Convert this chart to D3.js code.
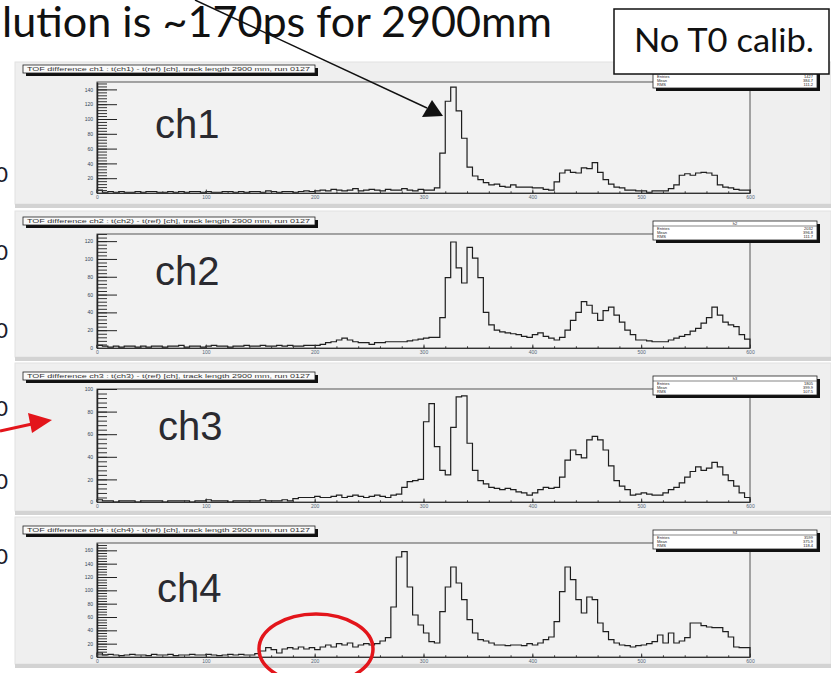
<!DOCTYPE html>
<html>
<head>
<meta charset="utf-8">
<script src="https://cdn.jsdelivr.net/npm/d3@7"></script>
<style>
  body { margin: 0; background: #fff; }
  svg { display: block; }
</style>
</head>
<body>
<div id="chart"></div>
<script>
// ---- data ----
const channels = ["ch1", "ch2", "ch3", "ch4"];
const xDomain = [0, 600];
const binWidth = 5;
const xMajorTicks = [0, 100, 200, 300, 400, 500, 600];
const yMaxes = [150, 128, 100, 171];
const yMajorStep = 20;

const ch1Counts = [
  4, 1, 2, 1, 2, 1, 1, 2, 1, 2, 2, 1, 1, 2, 1, 2, 1, 2, 2, 1,
  2, 1, 1, 2, 2, 1, 2, 1, 2, 2, 1, 3, 2, 1, 2, 2, 1, 2, 3, 2,
  3, 4, 3, 5, 4, 3, 4, 6, 3, 4, 5, 4, 3, 5, 4, 4, 6, 4, 3, 5,
  4, 4, 7, 54, 124, 143, 111, 74, 35, 23, 18, 14, 11, 12, 9, 8, 11, 8, 8, 8,
  7, 7, 5, 4, 15, 27, 31, 28, 27, 34, 33, 41, 28, 18, 12, 8, 7, 4, 4, 3,
  3, 1, 3, 3, 3, 6, 11, 24, 26, 24, 27, 28, 27, 24, 11, 8, 7, 5, 4, 4
];
const ch2Counts = [
  3, 2, 1, 2, 1, 2, 2, 1, 2, 1, 2, 2, 1, 2, 2, 3, 1, 2, 2, 1,
  2, 3, 2, 2, 1, 2, 2, 3, 2, 2, 3, 2, 2, 3, 2, 3, 2, 2, 3, 3,
  3, 4, 6, 7, 9, 11, 9, 7, 6, 6, 4, 6, 6, 7, 7, 7, 7, 8, 9, 10,
  11, 12, 12, 34, 79, 119, 90, 73, 113, 101, 79, 40, 26, 20, 18, 17, 16, 15, 13, 12,
  15, 17, 13, 11, 9, 12, 20, 31, 40, 52, 48, 39, 31, 42, 46, 37, 29, 20, 15, 9,
  9, 8, 7, 7, 7, 9, 11, 13, 15, 19, 22, 28, 34, 46, 37, 29, 26, 24, 15, 10
];
const ch3Counts = [
  2, 1, 1, 0, 1, 1, 1, 0, 1, 1, 1, 1, 0, 1, 1, 1, 1, 0, 1, 1,
  2, 1, 1, 1, 0, 1, 1, 1, 1, 1, 2, 1, 1, 1, 2, 1, 3, 4, 4, 4,
  5, 4, 4, 5, 6, 4, 5, 6, 5, 4, 5, 6, 5, 4, 6, 7, 13, 18, 19, 20,
  71, 87, 49, 28, 24, 66, 93, 94, 52, 28, 19, 16, 13, 12, 11, 12, 11, 9, 8, 6,
  8, 11, 13, 12, 13, 22, 37, 46, 42, 39, 55, 58, 55, 46, 32, 19, 14, 11, 6, 7,
  8, 7, 6, 6, 8, 11, 13, 17, 22, 27, 31, 28, 30, 35, 31, 24, 19, 14, 8, 4
];
const ch4Counts = [
  6, 3, 4, 3, 2, 3, 4, 3, 3, 2, 4, 3, 3, 4, 2, 3, 3, 4, 3, 3,
  4, 3, 2, 3, 4, 3, 4, 3, 3, 5, 9, 14, 11, 6, 12, 14, 12, 15, 12, 14,
  11, 15, 18, 15, 20, 18, 21, 15, 18, 20, 18, 20, 24, 29, 75, 150, 158, 105, 63, 48,
  36, 23, 21, 68, 105, 135, 111, 86, 56, 36, 26, 24, 21, 18, 18, 17, 18, 18, 17, 20,
  18, 21, 26, 30, 53, 98, 135, 116, 86, 66, 90, 86, 51, 38, 26, 21, 18, 17, 15, 17,
  18, 20, 23, 33, 21, 36, 21, 24, 29, 51, 51, 47, 45, 44, 44, 38, 30, 15, 14, 14
];
const series = [ch1Counts, ch2Counts, ch3Counts, ch4Counts];
const statLabels = ["Entries", "Mean", "RMS"];

// ---- layout ----
const W = 831, H = 673;
const frameLeft = 97, frameRight = 750;
const frameTops = [82, 234, 389, 543];
const frameBottoms = [193, 348, 502, 657];
const padTops = [62, 211, 363, 517];
const padBottoms = [204, 357, 511, 664];
const labelPos = [[155, 138], [155, 285], [158, 440], [157, 602]];
const sideZeros = [174, 252, 330, 408, 481, 556];

const svg = d3.select("#chart").append("svg")
  .attr("width", W).attr("height", H);
svg.append("rect").attr("width", W).attr("height", H).attr("fill", "#fff");

const x = d3.scaleLinear().domain(xDomain).range([frameLeft, frameRight]);

channels.forEach((name, i) => {
  const counts = series[i];
  const top = frameTops[i], bottom = frameBottoms[i];
  const y = d3.scaleLinear().domain([0, yMaxes[i]]).range([bottom, top]);
  const g = svg.append("g").attr("class", "pad");

  // pad + bottom edge
  g.append("rect")
    .attr("x", 15).attr("y", padTops[i])
    .attr("width", W - 15).attr("height", padBottoms[i] - padTops[i])
    .attr("fill", "#efefef").attr("stroke", "#e2e2e2");
  g.append("rect")
    .attr("x", 15).attr("y", padBottoms[i])
    .attr("width", W - 15).attr("height", 4)
    .attr("fill", "#d3d3d3");

  // frame
  g.append("rect")
    .attr("x", frameLeft).attr("y", top)
    .attr("width", frameRight - frameLeft).attr("height", bottom - top)
    .attr("fill", "#f2f2f2").attr("stroke", "#555").attr("stroke-width", 1);

  // histogram
  const end = xDomain[0] + counts.length * binWidth;
  const pts = [[xDomain[0], 0]]
    .concat(counts.map((c, j) => [xDomain[0] + j * binWidth, c]))
    .concat([[end, counts[counts.length - 1]], [end, 0]]);
  const line = d3.line()
    .x(d => x(d[0]))
    .y(d => y(d[1]))
    .curve(d3.curveStepAfter);
  g.append("path")
    .attr("d", line(pts))
    .attr("fill", "none")
    .attr("stroke", "#1e1e1e")
    .attr("stroke-width", 1.2);

  // y axis, ticks inside the frame
  const yMinor = d3.range(0, yMaxes[i] + 0.01, 4);
  const yMajor = d3.range(0, yMaxes[i] + 0.01, yMajorStep);
  g.append("g")
    .attr("transform", `translate(${frameLeft},0)`)
    .call(d3.axisLeft(y).tickValues(yMinor).tickSize(-10).tickFormat(""))
    .call(a => a.select(".domain").remove())
    .call(a => a.selectAll("line").attr("stroke", "#333"));
  g.append("g")
    .attr("transform", `translate(${frameLeft},0)`)
    .call(d3.axisLeft(y).tickValues(yMajor).tickSize(-20).tickPadding(4).tickSizeOuter(0))
    .call(a => a.select(".domain").attr("stroke", "#222").attr("stroke-width", 1.5))
    .call(a => a.selectAll("line").attr("stroke", "#222"))
    .call(a => a.selectAll("text").attr("font-size", 5).attr("fill", "#345")
      .attr("font-family", "Liberation Sans, Arial, sans-serif"));

  // x axis
  g.append("g")
    .attr("transform", `translate(0,${bottom})`)
    .call(d3.axisBottom(x).tickValues(d3.range(xDomain[0], xDomain[1] + 1, 20)).tickSize(-1.7).tickFormat(""))
    .call(a => a.select(".domain").remove())
    .call(a => a.selectAll("line").attr("stroke", "#333"));
  g.append("g")
    .attr("transform", `translate(0,${bottom})`)
    .call(d3.axisBottom(x).tickValues(xMajorTicks).tickSize(-3.4).tickPadding(2).tickSizeOuter(0))
    .call(a => a.select(".domain").attr("stroke", "#333"))
    .call(a => a.selectAll("line").attr("stroke", "#333"))
    .call(a => a.selectAll("text").attr("font-size", 5).attr("fill", "#567")
      .attr("font-family", "Liberation Sans, Arial, sans-serif"));

  // title pave with shadow
  const tx = 23, ty = top - 17, tw = 292, th = 8;
  g.append("rect").attr("x", tx + 3).attr("y", ty + 3).attr("width", tw).attr("height", th).attr("fill", "#111");
  g.append("rect").attr("x", tx).attr("y", ty).attr("width", tw).attr("height", th)
    .attr("fill", "#fafafa").attr("stroke", "#222").attr("stroke-width", 0.8);
  g.append("text")
    .attr("x", tx + 4).attr("y", ty + 6)
    .attr("font-size", 6).attr("font-family", "Liberation Sans, Arial, sans-serif")
    .attr("fill", "#333")
    .attr("textLength", tw - 9).attr("lengthAdjust", "spacingAndGlyphs")
    .text(`TOF difference ${name} : t(${name}) - t(ref) [ch], track length 2900 mm, run 0127`);

  // stats box
  const entries = d3.sum(counts);
  const mids = counts.map((c, j) => xDomain[0] + (j + 0.5) * binWidth);
  const mean = d3.sum(counts, (c, j) => c * mids[j]) / entries;
  const rms = Math.sqrt(d3.sum(counts, (c, j) => c * (mids[j] - mean) ** 2) / entries);
  const statVals = [d3.format("d")(entries), mean.toFixed(1), rms.toFixed(1)];
  const sx = 653, sy = top - 13, sw = 164, sh = 19;
  g.append("rect").attr("x", sx + 3).attr("y", sy + 3).attr("width", sw).attr("height", sh).attr("fill", "#111");
  g.append("rect").attr("x", sx).attr("y", sy).attr("width", sw).attr("height", sh)
    .attr("fill", "#fff").attr("stroke", "#222").attr("stroke-width", 0.8);
  g.append("line").attr("x1", sx).attr("x2", sx + sw).attr("y1", sy + 5).attr("y2", sy + 5)
    .attr("stroke", "#333").attr("stroke-width", 0.6);
  g.append("text").attr("x", sx + sw / 2).attr("y", sy + 4).attr("text-anchor", "middle")
    .attr("font-size", 4).attr("fill", "#222").attr("font-family", "Liberation Sans, Arial, sans-serif")
    .text("h" + (i + 1));
  statLabels.forEach((lab, k) => {
    g.append("text").attr("x", sx + 4).attr("y", sy + 9 + k * 4)
      .attr("font-size", 4).attr("fill", "#222").attr("font-family", "Liberation Sans, Arial, sans-serif")
      .text(lab);
    g.append("text").attr("x", sx + sw - 4).attr("y", sy + 9 + k * 4).attr("text-anchor", "end")
      .attr("font-size", 4).attr("fill", "#222").attr("font-family", "Liberation Sans, Arial, sans-serif")
      .text(statVals[k]);
  });

  // channel label
  g.append("text")
    .attr("x", labelPos[i][0]).attr("y", labelPos[i][1])
    .attr("font-size", 40)
    .attr("font-family", "Liberation Sans, Arial, sans-serif")
    .attr("fill", "#2a2a30")
    .text(name);
});

// cut-off axis digits at the left edge of the slide
svg.selectAll("text.side")
  .data(sideZeros)
  .join("text")
  .attr("class", "side")
  .attr("x", 8).attr("y", d => d + 8)
  .attr("text-anchor", "end")
  .attr("font-size", 22)
  .attr("font-family", "Lato, Open Sans, sans-serif")
  .attr("fill", "#1c1c2c")
  .text("0");

// slide title (cut off on the left)
svg.append("text")
  .attr("x", 2).attr("y", 37)
  .attr("font-size", 42)
  .attr("font-family", "Lato, Open Sans, sans-serif")
  .attr("fill", "#111")
  .attr("textLength", 550).attr("lengthAdjust", "spacingAndGlyphs")
  .text("lution is ~170ps for 2900mm");

// "No T0 calib." box
svg.append("rect")
  .attr("x", 614).attr("y", 9).attr("width", 215).attr("height", 65)
  .attr("fill", "#fff").attr("stroke", "#111").attr("stroke-width", 1.5);
svg.append("text")
  .attr("x", 634).attr("y", 52)
  .attr("font-size", 33)
  .attr("font-family", "Lato, Open Sans, sans-serif")
  .attr("fill", "#111")
  .attr("textLength", 180).attr("lengthAdjust", "spacingAndGlyphs")
  .text("No T0 calib.");

// black annotation arrow to the ch1 peak
svg.append("line")
  .attr("x1", 195).attr("y1", 0).attr("x2", 427).attr("y2", 108)
  .attr("stroke", "#111").attr("stroke-width", 1.4);
svg.append("polygon")
  .attr("points", "432,100 443,116 422,117")
  .attr("fill", "#111");

// red arrow pointing at ch3
svg.append("line")
  .attr("x1", 0).attr("y1", 431).attr("x2", 32).attr("y2", 424)
  .attr("stroke", "#e3151b").attr("stroke-width", 3);
svg.append("polygon")
  .attr("points", "28,413 52,420 32,433")
  .attr("fill", "#e3151b");

// red ellipse around the ch4 shoulder
svg.append("ellipse")
  .attr("cx", 316).attr("cy", 649).attr("rx", 57).attr("ry", 35)
  .attr("fill", "none").attr("stroke", "#e3151b").attr("stroke-width", 3.5);
</script>
</body>
</html>
